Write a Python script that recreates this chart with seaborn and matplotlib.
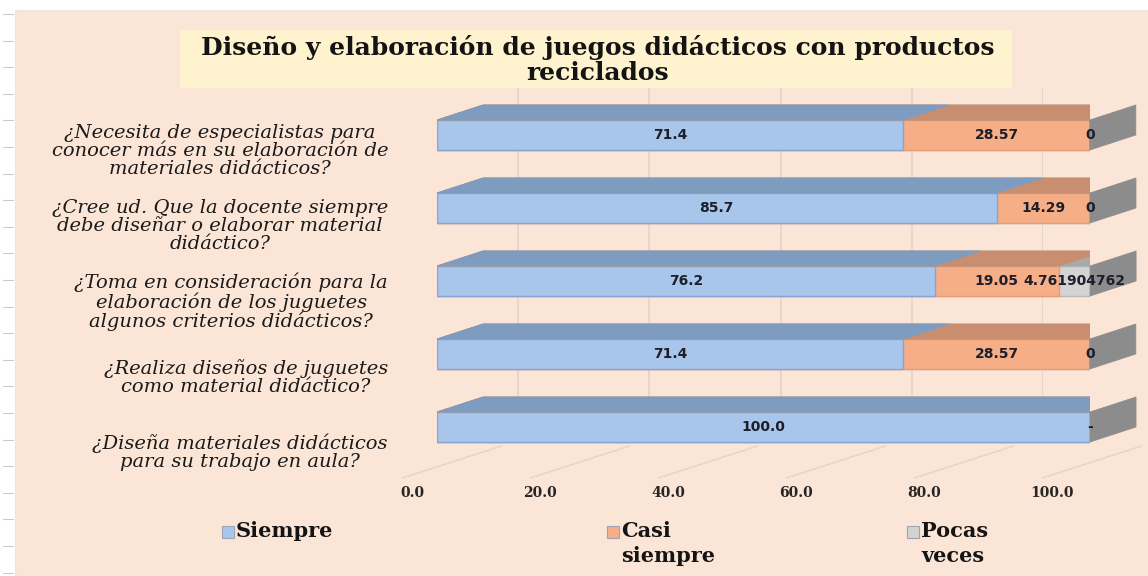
import matplotlib.pyplot as plt
import matplotlib.transforms as mtransforms
import numpy as np
import pandas as pd
import seaborn as sns
from matplotlib.patches import Polygon, Rectangle

# ---- data ----
preguntas = [
    "¿Necesita de especialistas para\nconocer más en su elaboración de\nmateriales didácticos?",
    "¿Cree ud. Que la docente siempre\ndebe diseñar o elaborar material\ndidáctico?",
    "¿Toma en consideración para la\nelaboración de los juguetes\nalgunos criterios didácticos?",
    "¿Realiza diseños de juguetes\ncomo material didáctico?",
    "¿Diseña materiales didácticos\npara su trabajo en aula?",
]
series = ["Siempre", "Casi siempre", "Pocas veces"]
siempre = [71.4, 85.7, 76.2, 71.4, 100.0]
casi_siempre = [28.57, 14.29, 19.05, 28.57, 0]
pocas_veces = [0, 0, 4.761904762, 0, None]
ticks = [0, 20, 40, 60, 80, 100]
titulo = "Diseño y elaboración de juegos didácticos con productos\nreciclados"

# colours: front face, top face, edge
front = {"Siempre": "#A8C6EC", "Casi siempre": "#F6AE87", "Pocas veces": "#D3D3D3"}
top = {"Siempre": "#7E9CC0", "Casi siempre": "#C98E70", "Pocas veces": "#A9A9A9"}
edge = {"Siempre": "#86A6D0", "Casi siempre": "#E39C76", "Pocas veces": "#B8B8B8"}
side_col = "#8C8C8C"
bg = "#FBE5D6"

sns.set_theme(style="white")
plt.rcParams["font.family"] = ["DejaVu Serif"]

W, H = 1148, 576
fig = plt.figure(figsize=(W / 100, H / 100), dpi=100)
fig.patch.set_facecolor("white")
fig.patches.append(Rectangle((15 / W, 0), 1, (H - 10) / H, transform=fig.transFigure,
                             facecolor=bg, edgecolor="#E6E6E6", lw=0.8, zorder=-10))
# ruler dashes at the left page border
for yy in np.arange(14, H, 26.6):
    fig.add_artist(plt.Line2D([3 / W, 13 / W], [1 - yy / H] * 2, color="#C9C9C9", lw=0.8))


def fax(x0, y0, x1, y1):
    # axes rectangle given in image pixels (top-left origin)
    return [x0 / W, 1 - y1 / H, (x1 - x0) / W, (y1 - y0) / H]


df = pd.DataFrame({"pregunta": preguntas, "Siempre": siempre,
                   "Casi siempre": casi_siempre, "Pocas veces": pocas_veces})
df["c1"] = df["Siempre"]
df["c2"] = df["c1"] + df["Casi siempre"]
df["c3"] = df["c2"] + df["Pocas veces"].fillna(0)

# back wall with vertical gridlines
ax_wall = fig.add_axes(fax(387, 88, 1043, 412))
ax_wall.set_xlim(0, 100)
ax_wall.vlines(ticks[1:], 0, 1, color="#E0D2C8", lw=1.1)
ax_wall.set_ylim(0, 1)
ax_wall.axis("off")

# floor with tick labels and perspective lines
ax_floor = fig.add_axes(fax(412, 446, 1052, 478))
ax_floor.set_xlim(0, 100)
ax_floor.set_ylim(0, 1)
for v in ticks:
    ax_floor.plot([v - 1.5, v + 14], [0, 1], color="#E6D3C7", lw=1.0, clip_on=False)
ax_floor.set_xticks(ticks)
ax_floor.set_xticklabels([f"{v:.1f}" for v in ticks], fontsize=10,
                         fontweight="bold", color="#262626")
ax_floor.tick_params(axis="x", length=0, pad=6)
ax_floor.set_yticks([])
ax_floor.patch.set_alpha(0)
for s in ax_floor.spines.values():
    s.set_visible(False)

# main bars
ax = fig.add_axes(fax(437, 98.5, 1090, 463.5))
ax.patch.set_alpha(0)
groups = {}
for col, name in [("c3", "Pocas veces"), ("c2", "Casi siempre"), ("c1", "Siempre")]:
    n0 = len(ax.patches)
    sns.barplot(data=df, x=col, y="pregunta", orient="h", color=front[name],
                saturation=1, width=0.41, errorbar=None, ax=ax,
                edgecolor=edge[name], linewidth=1.0)
    groups[name] = ax.patches[n0:]
ax.set_xlim(0, 100)
ax.set_ylim(4.5, -0.5)
ax.set_xlabel("")
ax.set_ylabel("")
ax.set_xticks([])
ax.set_yticks([])
for s in ax.spines.values():
    s.set_visible(False)

# fake 3D depth, offset in pixels converted to data units
fig.canvas.draw()
inv = ax.transData.inverted()
o = inv.transform(ax.transData.transform((0, 0)) + np.array([46, 15]))
dx, dy = o[0], o[1]

for name in ["Pocas veces", "Casi siempre", "Siempre"]:
    for p in groups[name]:
        x0, y0, w, h = p.get_x(), p.get_y(), p.get_width(), p.get_height()
        ax.add_patch(Polygon([(x0, y0), (x0 + w, y0), (x0 + w + dx, y0 + dy), (x0 + dx, y0 + dy)],
                             closed=True, facecolor=top[name], edgecolor=top[name], lw=0.6))
for p in groups["Pocas veces"]:
    x1, y0, h = p.get_x() + p.get_width(), p.get_y(), p.get_height()
    ax.add_patch(Polygon([(x1, y0), (x1, y0 + h), (x1 + dx, y0 + h + dy), (x1 + dx, y0 + dy)],
                         closed=True, facecolor=side_col, edgecolor=side_col, lw=0.6, clip_on=False))

# data labels
lab = dict(fontsize=10, fontweight="bold", color="#1E1E2A", ha="center", va="center",
           family=["DejaVu Sans"])
for i in range(len(preguntas)):
    s, c, pv = siempre[i], casi_siempre[i], pocas_veces[i]
    ax.text(s / 2, i, f"{s:.1f}", **lab)
    ax.text(s + c / 2, i, "-" if c == 0 else f"{c:.2f}", **lab)
    if pv is not None:
        ax.text(s + c + pv / 2, i, f"{pv:g}" if pv == 0 else str(pv), **lab)

# category labels (floor perspective pushes them down a little)
blend = mtransforms.blended_transform_factory(fig.transFigure, ax.transData)
for i, q in enumerate(preguntas):
    off = mtransforms.ScaledTranslation(0, -(16 + 2.4 * i) / 100, fig.dpi_scale_trans)
    ax.text(388 / W, i, q, transform=blend + off, ha="right", va="center",
            multialignment="center", fontsize=14, style="italic", linespacing=1.0,
            color="#1A1A1A", clip_on=False)

# title in its box
fig.patches.append(Rectangle((180 / W, 1 - 88 / H), (1012 - 180) / W, 58 / H,
                             transform=fig.transFigure, facecolor="#FFF3CF", edgecolor="none"))
fig.text(598 / W, 1 - 60 / H, titulo, ha="center", va="center", fontsize=18,
         fontweight="bold", linespacing=1.03, color="#141414")

# legend, drawn entry by entry so the square sits on the first text line
leg_x = [222, 607, 907]
for name, lx in zip(series, leg_x):
    fig.patches.append(Rectangle((lx / W, 1 - 538 / H), 12 / W, 12 / H, transform=fig.transFigure,
                                 facecolor=front[name], edgecolor="#9AA6B5", lw=0.8))
    fig.text((lx + 14) / W, 1 - 521 / H, name.replace(" ", "\n", 1), ha="left", va="top",
             fontsize=15, fontweight="bold", linespacing=1.3, color="#141414")

fig.savefig("out.png", dpi=100)
